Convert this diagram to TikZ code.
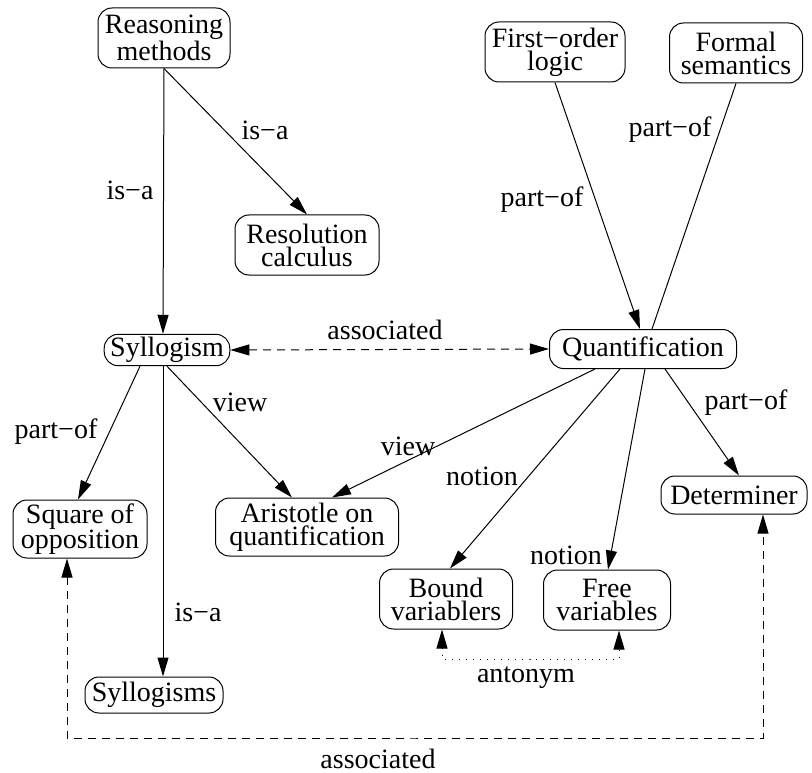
\documentclass[tikz,border=0pt]{standalone}
\usepackage{fontspec}
\setmainfont{Liberation Serif}
\usetikzlibrary{arrows.meta}

\begin{document}
\begin{tikzpicture}[x=1pt,y=-1pt,line width=1pt]
                \tikzset{concept/.style = {shape=rectangle,draw,rounded corners=14pt,align=center,inner xsep=6pt,inner ysep=3pt,minimum height=36pt,font=\fontsize{28}{23}\selectfont}}
                \tikzset{twoline/.style = {concept,minimum height=60pt}}
                \tikzset{rel/.style = {inner sep=0pt,font=\fontsize{28}{23}\selectfont}}
                \tikzset{edge/.style = {-{Triangle[length=19pt,width=11pt]}}}
                \tikzset{assoc/.style = {{Triangle[length=19pt,width=11pt]}-{Triangle[length=19pt,width=11pt]},dash pattern=on 8pt off 6pt}}
                \tikzset{antonym/.style = {{Triangle[length=19pt,width=11pt]}-{Triangle[length=19pt,width=11pt]},dash pattern=on 1pt off 6pt}}
                \useasboundingbox (0,0) rectangle (812,773);

                \node[twoline, minimum width=132pt] (rm) at (164,38) {Reasoning\\methods};
                \node[twoline, minimum width=144pt] (res) at (307,245) {Resolution\\calculus};
                \node[twoline, minimum width=140pt] (fol) at (555,52) {First−order\\logic};
                \node[twoline, minimum width=133pt] (fs) at (736,53) {Formal\\semantics};
                \node[concept, minimum width=125pt, minimum height=31pt] (syl) at (167,350) {Syllogism};
                \node[concept, minimum width=187pt, minimum height=39pt] (quant) at (643,349) {Quantification};
                \node[twoline, minimum width=134pt, minimum height=58pt] (sq) at (80,529) {Square of\\opposition};
                \node[twoline, minimum width=183pt, minimum height=58pt] (ari) at (307,527) {Aristotle on\\quantification};
                \node[concept, minimum width=146pt, minimum height=38pt] (det) at (734,495) {Determiner};
                \node[twoline, minimum width=133pt] (bound) at (446,599) {Bound\\variablers};
                \node[twoline, minimum width=127pt] (free) at (607,600) {Free\\variables};
                \node[concept, minimum width=138pt] (syls) at (154,695) {Syllogisms};

                \coordinate (antbar) at (530,659);
                \coordinate (assocbar) at (415,738);

                \draw[edge] (rm.south) to ([xshift=-4pt]syl.north);
                \draw[edge] (rm.south) to (res.north);

                \draw[edge] (fol.south) to ([xshift=-3pt]quant.north);
                \draw (fs.south) to ([xshift=9pt]quant.north);

                \draw[edge] ([xshift=-27pt]syl.south) to ([xshift=-2pt]sq.north);
                \draw[edge] ([xshift=-4pt]syl.south) to ([xshift=9pt]syls.north);
                \draw[edge] (syl.south) to ([xshift=-15pt]ari.north);

                \draw[edge] ([xshift=-48pt]quant.south) to ([xshift=25pt]ari.north);
                \draw[edge] ([xshift=-23pt]quant.south) to ([xshift=4pt]bound.north);
                \draw[edge] ([xshift=2pt]quant.south) to ([xshift=1pt]free.north);
                \draw[edge] ([xshift=22pt]quant.south) to ([xshift=5pt]det.north);

                \draw[assoc] (syl.east) to (quant.west);
                \draw[antonym] ([xshift=-4pt]bound.south) |- (antbar) -| ([xshift=12pt]free.south);
                \draw[assoc] ([xshift=-13pt]sq.south) |- (assocbar) -| ([xshift=29pt]det.south);

                \node[rel] (isa1) at (130,190) {is−a};
                \node[rel] (isa2) at (265,130) {is−a};
                \node[rel] (partof1) at (542,200) {part−of};
                \node[rel] (partof2) at (670,130) {part−of};
                \node[rel] (assoc1) at (385,330) {associated};
                \node[rel] (view1) at (240,402) {view};
                \node[rel] (partof3) at (56,432) {part−of};
                \node[rel] (view2) at (408,446) {view};
                \node[rel] (notion1) at (482,476) {notion};
                \node[rel] (notion2) at (566,555) {notion};
                \node[rel] (partof4) at (746,403) {part−of};
                \node[rel] (isa3) at (198,612) {is−a};
                \node[rel] (antlbl) at (526,678) {antonym};
                \node[rel] (assoc2) at (378,759) {associated};
            \end{tikzpicture}
\end{document}
